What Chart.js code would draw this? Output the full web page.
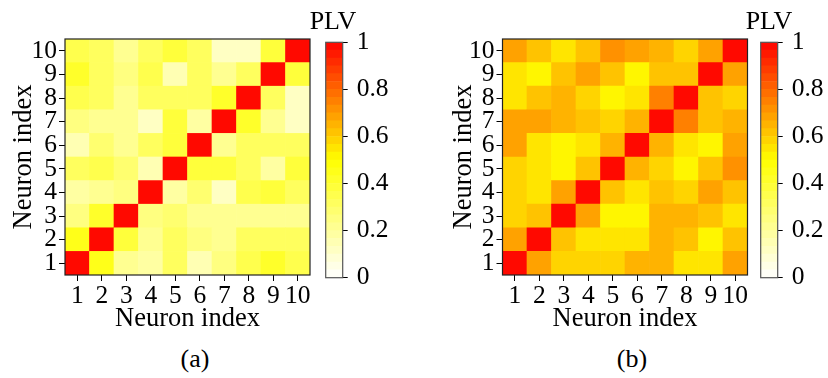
<!DOCTYPE html>
<html><head><meta charset="utf-8">
<script src="https://cdn.jsdelivr.net/npm/chart.js@4"></script>
<style>
html,body{margin:0;padding:0;background:#fff;}
#wrap{position:relative;width:828px;height:378px;overflow:hidden;}
canvas{position:absolute;}
.lbl{position:absolute;font-family:"Liberation Serif",serif;font-size:26px;color:#000;white-space:nowrap;transform:translateX(-50%);line-height:1;}
</style></head>
<body><div id="wrap">
<canvas id="cA" width="330" height="335" style="left:0;top:0"></canvas>
<canvas id="cbA" width="93" height="345" style="left:300px;top:0"></canvas>
<canvas id="cB" width="330" height="335" style="left:440px;top:0"></canvas>
<canvas id="cbB" width="93" height="345" style="left:735px;top:0"></canvas>
<div class="lbl" style="left:333px;top:8px">PLV</div>
<div class="lbl" style="left:769px;top:8px">PLV</div>
<div class="lbl" style="left:195px;top:346px">(a)</div>
<div class="lbl" style="left:632px;top:346px">(b)</div>
</div>
<script>
const neuronLabels = ['1','2','3','4','5','6','7','8','9','10'];
const axisTitle = 'Neuron index';
const cbTicks = [0, 0.2, 0.4, 0.6, 0.8, 1];

// PLV matrices, rows = neuron 1..10 (bottom to top), columns = neuron 1..10
const plvA = [
  [1.00,0.45,0.23,0.18,0.30,0.15,0.25,0.35,0.42,0.35],
  [0.45,1.00,0.38,0.20,0.33,0.25,0.20,0.33,0.33,0.33],
  [0.25,0.40,1.00,0.25,0.27,0.22,0.22,0.22,0.23,0.23],
  [0.17,0.20,0.25,1.00,0.17,0.28,0.10,0.35,0.37,0.30],
  [0.30,0.35,0.28,0.15,1.00,0.37,0.37,0.33,0.18,0.37],
  [0.15,0.28,0.22,0.30,0.37,1.00,0.20,0.33,0.32,0.32],
  [0.25,0.20,0.20,0.10,0.37,0.18,1.00,0.40,0.20,0.12],
  [0.35,0.33,0.20,0.33,0.33,0.33,0.40,1.00,0.30,0.12],
  [0.42,0.33,0.25,0.35,0.15,0.30,0.20,0.30,1.00,0.38],
  [0.35,0.33,0.22,0.30,0.37,0.30,0.10,0.10,0.37,1.00]
];
const plvB = [
  [1.00,0.67,0.57,0.57,0.57,0.66,0.66,0.55,0.55,0.67],
  [0.67,1.00,0.61,0.55,0.55,0.55,0.66,0.61,0.52,0.61],
  [0.57,0.62,1.00,0.67,0.52,0.52,0.64,0.64,0.61,0.55],
  [0.57,0.55,0.68,1.00,0.61,0.55,0.61,0.58,0.67,0.61],
  [0.57,0.55,0.52,0.62,1.00,0.65,0.57,0.52,0.62,0.72],
  [0.68,0.55,0.52,0.55,0.65,1.00,0.64,0.55,0.52,0.67],
  [0.68,0.68,0.66,0.61,0.58,0.64,1.00,0.75,0.61,0.64],
  [0.55,0.61,0.64,0.57,0.50,0.55,0.75,1.00,0.61,0.57],
  [0.55,0.50,0.62,0.68,0.62,0.50,0.61,0.61,1.00,0.67],
  [0.68,0.60,0.55,0.60,0.72,0.67,0.64,0.57,0.67,1.00]
];

const NLEV = 30;
function plvColor(v){
  const k = Math.min(NLEV-1, Math.max(0, Math.floor(v*NLEV)));
  const t = (k+0.5)/NLEV;
  let g, b;
  if (t < 0.5) { g = 255; b = Math.round(255*(1-2*t)); }
  else { g = Math.round(255*(2-2*t)); b = 0; }
  return `rgb(255,${g},${b})`;
}

const FONT = {family:'"Liberation Serif", serif', size:25.5};
const TFONT = {family:'"Liberation Serif", serif', size:26.5};

const framePlugin = {
  id:'frame',
  afterDraw(chart, args, opts){
    const a = chart.chartArea, ctx = chart.ctx;
    ctx.save();
    ctx.strokeStyle = opts.color || '#222';
    ctx.lineWidth = 1.2;
    ctx.strokeRect(a.left, a.top, a.right-a.left, a.bottom-a.top);
    ctx.restore();
  }
};

function heatmap(id, matrix, yWidth, rightPad){
  const datasets = matrix.map(row => ({
    data: row.map(() => 1),
    backgroundColor: row.map(plvColor),
    borderWidth: 0,
    barPercentage: 1,
    categoryPercentage: 1
  }));
  new Chart(document.getElementById(id), {
    type:'bar',
    data:{labels: neuronLabels, datasets},
    plugins:[framePlugin],
    options:{
      responsive:false, animation:false,
      layout:{padding:{left:8, right:rightPad, top:39, bottom:0}},
      plugins:{legend:{display:false}, tooltip:{enabled:false}, frame:{color:'#222'}},
      scales:{
        x:{
          stacked:true,
          grid:{offset:false, drawOnChartArea:false, drawTicks:true, tickLength:6, color:'#000'},
          border:{display:false},
          ticks:{font:FONT, color:'#000', maxRotation:0, autoSkip:false, padding:0},
          title:{display:true, text:axisTitle, font:TFONT, color:'#000', padding:{top:0,bottom:0}},
          afterFit(s){ s.height = 60; }
        },
        y:{
          stacked:true, min:0, max:10,
          grid:{drawOnChartArea:false, drawTicks:true, tickLength:6, color:'#000'},
          border:{display:false},
          afterBuildTicks(s){ s.ticks = neuronLabels.map((l,i)=>({value:i+0.5})); },
          ticks:{font:FONT, color:'#000', padding:2, autoSkip:false, callback:(v,i)=>neuronLabels[i]},
          title:{display:true, text:axisTitle, font:TFONT, color:'#000', padding:{top:0,bottom:0}},
          afterFit(s){ s.width = yWidth - 8; }
        }
      }
    }
  });
}

function colorbar(id){
  const datasets = [];
  for (let k=0;k<NLEV;k++){
    datasets.push({data:[1/NLEV], backgroundColor:plvColor((k+0.5)/NLEV), borderWidth:0, barPercentage:1, categoryPercentage:1});
  }
  new Chart(document.getElementById(id), {
    type:'bar',
    data:{labels:['PLV'], datasets},
    plugins:[framePlugin],
    options:{
      responsive:false, animation:false,
      layout:{padding:{left:25.7, right:0, top:42.3, bottom:67.3}},
      plugins:{legend:{display:false}, tooltip:{enabled:false}, frame:{color:'#555'}},
      scales:{
        x:{stacked:true, display:false},
        y:{
          stacked:true, position:'right', min:0, max:1,
          grid:{drawOnChartArea:false, drawTicks:true, tickLength:5, color:'#000'},
          border:{display:false},
          afterBuildTicks(s){ s.ticks = cbTicks.map(v=>({value:v})); },
          ticks:{font:FONT, color:'#000', padding:9, autoSkip:false, callback:(v)=>String(Math.round(v*10)/10)},
          afterFit(s){ s.width = 93-25.7-17; }
        }
      }
    }
  });
}

heatmap('cA', plvA, 65, 20);
heatmap('cB', plvB, 62.5, 22.5);
colorbar('cbA');
colorbar('cbB');
</script>
</body></html>
